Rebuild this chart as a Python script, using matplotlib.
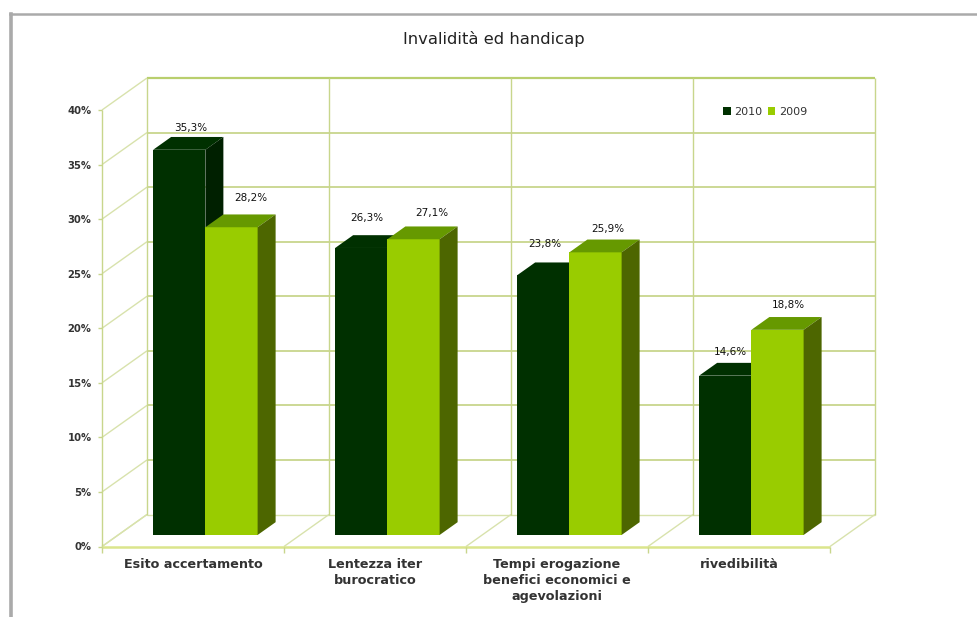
import matplotlib
matplotlib.use('Agg')
import matplotlib.pyplot as plt
from matplotlib.lines import Line2D
from matplotlib.patches import Patch, Polygon

categories = ['Esito accertamento', 'Lentezza iter\nburocratico',
              'Tempi erogazione\nbenefici economici e\nagevolazioni', 'rivedibilità']
years = ['2010', '2009']
values_2010 = [35.3, 26.3, 23.8, 14.6]
values_2009 = [28.2, 27.1, 25.9, 18.8]
y_ticks = [0, 5, 10, 15, 20, 25, 30, 35, 40]

W, H = 978, 617
# front plane of the fake 3D box, in pixels
LEFT, RIGHT, BOTTOM, TOP = 102, 830, 546.5, 110
px_x = (RIGHT - LEFT) / 4
px_y = (BOTTOM - TOP) / 40

# depth of the box, in data units
depth_x = 45 / px_x
depth_y = 32 / px_y

GRID = '#d8e2ac'
GRID_STRONG = '#c8d68c'
DARK = ['#003000', '#003000', '#002000']    # front, top, side
LIME = ['#99cc00', '#669900', '#4d6600']

fig = plt.figure(figsize=(W / 100, H / 100), dpi=100, facecolor='white')
ax = fig.add_axes([LEFT / W, 1 - BOTTOM / H, (RIGHT - LEFT) / W, (BOTTOM - TOP) / H])
ax.set_xlim(0, 4)
ax.set_ylim(0, 40)
ax.patch.set_visible(False)
for s in ax.spines.values():
    s.set_visible(False)

def line(xs, ys, color=GRID, lw=1.0):
    ax.plot(xs, ys, color=color, lw=lw, clip_on=False, zorder=1, solid_capstyle='butt')

# walls
for t in y_ticks:
    line([0, depth_x], [t, t + depth_y])
    if t == 40:
        line([depth_x, 4 + depth_x], [t + depth_y, t + depth_y], '#b9cf6e', 1.6)
    elif t:
        line([depth_x, 4 + depth_x], [t + depth_y, t + depth_y], GRID_STRONG, 1.3)
    else:
        line([depth_x, 4 + depth_x], [t + depth_y, t + depth_y])
for i in range(5):
    line([i, i + depth_x], [0, depth_y])
    line([i + depth_x, i + depth_x], [depth_y, 40 + depth_y], GRID_STRONG, 1.0)
line([0, 0], [0, 40], GRID_STRONG)
line([0, 4], [0, 0], '#dbe58c', 1.8)

# bars sit on the floor, part way into the box
bar_depth0 = 0.36
bar_depth1 = 0.76
off_x = bar_depth0 * depth_x
base = bar_depth0 * depth_y
bar_w = 0.287
dx = (bar_depth1 - bar_depth0) * depth_x
dy = (bar_depth1 - bar_depth0) * depth_y
group_start = 0.192

# label shifts in pixels from the bar's front centre / back top edge
label_dx = [[11, 6, 2, 5], [19, 18, 12, 11]]
label_dy = [[9, 17, 18, 11], [16, 13, 11, 12]]

for s, vals in enumerate([values_2010, values_2009]):
    front, top, side = (DARK, LIME)[s]
    for i, v in enumerate(vals):
        x0 = i + group_start + s * bar_w + off_x
        x1 = x0 + bar_w
        y1 = base + v
        z = 3 + s
        ax.bar(x0, v, bar_w, bottom=base, align='edge', color=front, lw=0, clip_on=False, zorder=z)
        ax.add_patch(Polygon([(x0, y1), (x1, y1), (x1 + dx, y1 + dy), (x0 + dx, y1 + dy)],
                             fc=top, lw=0, clip_on=False, zorder=z))
        ax.add_patch(Polygon([(x1, base), (x1 + dx, base + dy), (x1 + dx, y1 + dy), (x1, y1)],
                             fc=side, lw=0, clip_on=False, zorder=z))
        ax.annotate(f'{v:.1f}%'.replace('.', ','), (x0 + bar_w / 2, y1 + dy),
                    xytext=(label_dx[s][i] * 0.72, label_dy[s][i] * 0.72), textcoords='offset points',
                    ha='center', va='center', fontsize=7.5, color='#111111', zorder=6,
                    annotation_clip=False)

ax.set_yticks(y_ticks)
ax.set_yticklabels([f'{t}%' for t in y_ticks], fontsize=7.2, fontweight='bold', color='#333333')
ax.tick_params(axis='y', length=3, width=1, color=GRID_STRONG, pad=4.5)
ax.set_xticks([0, 1, 2, 3, 4])
ax.set_xticks([0.5, 1.5, 2.5, 3.5], minor=True)
ax.set_xticklabels([])
ax.set_xticklabels(categories, minor=True, fontsize=9.2, fontweight='bold', color='#333333',
                   linespacing=1.32)
ax.tick_params(axis='x', which='major', length=4.5, width=1, color=GRID_STRONG)
ax.tick_params(axis='x', which='minor', length=0, pad=8)

handles = [Patch(fc=DARK[0] if i == 0 else LIME[0], lw=0) for i in range(2)]
ax.legend(handles, years, ncols=2, frameon=False, fontsize=8, loc='center',
          bbox_to_anchor=((765 - LEFT) / px_x, (BOTTOM - 112) / px_y), bbox_transform=ax.transData,
          handlelength=0.7, handleheight=0.7, handletextpad=0.3, columnspacing=0.5,
          labelcolor='#333333')

fig.text(494 / W, 1 - 39 / H, 'Invalidità ed handicap', ha='center', va='center',
         fontsize=11.8, color='#222222')

# grey frame of the screenshot
fig.add_artist(Line2D([11 / W, 11 / W], [0, 1 - 14 / H], color='#aaaaaa', lw=2.6))
fig.add_artist(Line2D([10 / W, 1], [1 - 14 / H, 1 - 14 / H], color='#aaaaaa', lw=1.8))

fig.savefig('out.png', dpi=100)
